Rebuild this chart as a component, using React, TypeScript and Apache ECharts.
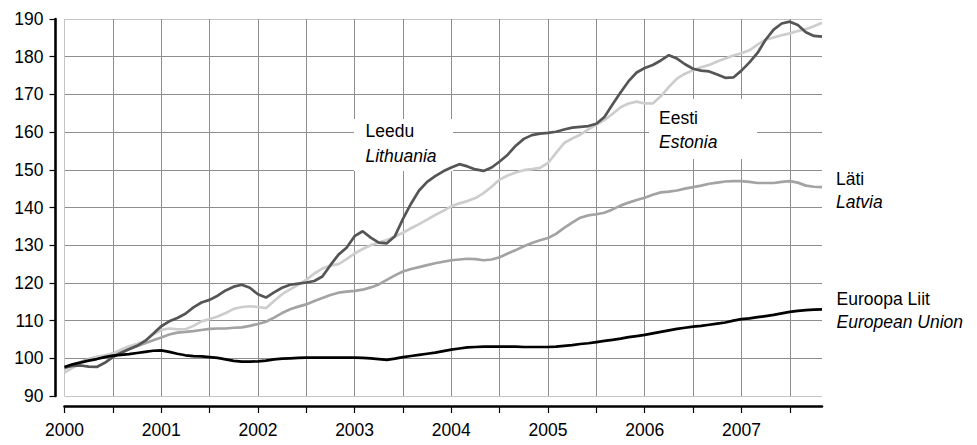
import React, { useEffect, useRef } from "react";
import * as echarts from "echarts";

const FONT = "'Liberation Sans', Arial, sans-serif";
const FS = 17.5;

// Monthly index, Jan 2000 .. Nov 2007
const months: string[] = Array.from({ length: 95 }, (_, i) => {
  const y = 2000 + Math.floor(i / 12);
  const m = (i % 12) + 1;
  return `${y}-${m < 10 ? "0" + m : m}`;
});

const yTicks = [90, 100, 110, 120, 130, 140, 150, 160, 170, 180, 190];

const lithuania = [
  97.6, 98.0, 98.1, 97.8, 97.7, 98.8, 100.3, 101.4, 102.4, 103.3, 104.6, 106.5,
  108.5, 109.8, 110.7, 111.8, 113.5, 114.8, 115.5, 116.6, 118.0, 119.0, 119.5, 118.7,
  117.0, 116.1, 117.5, 118.7, 119.5, 119.8, 120.1, 120.5, 121.7, 124.7, 127.5, 129.3,
  132.4, 133.7, 132.0, 130.7, 130.5, 132.4, 137.0, 141.0, 144.5, 146.8, 148.3, 149.6,
  150.6, 151.5, 150.9, 150.1, 149.7, 150.6, 152.2, 154.0, 156.4, 158.2, 159.2, 159.6,
  159.8, 160.1, 160.7, 161.2, 161.4, 161.6, 162.2, 164.0, 167.3, 170.5, 173.5, 175.8,
  177.0, 177.8, 179.0, 180.4, 179.5, 178.0, 176.8, 176.3, 176.1, 175.3, 174.4, 174.5,
  176.3, 178.5, 181.0, 184.5, 187.2, 188.8, 189.3, 188.4, 186.5, 185.5, 185.3,
];

const estonia = [
  96.2, 97.5, 98.6, 99.6, 100.3, 100.8, 101.3, 102.3, 103.2, 103.8, 104.6, 106.3,
  107.5, 107.9, 107.7, 107.7, 108.6, 109.8, 110.4, 111.1, 112.0, 113.1, 113.6, 113.8,
  113.6, 113.3, 115.2, 117.0, 118.3, 119.5, 120.8, 122.5, 123.8, 124.6, 125.0, 126.3,
  127.8, 129.0, 130.0, 130.7, 131.4, 132.3, 133.3, 134.5, 135.6, 136.8, 138.0, 139.1,
  140.3, 141.1, 141.7, 142.5, 143.8, 145.5, 147.4, 148.5, 149.3, 149.9, 150.2, 150.5,
  151.8, 154.5, 157.1, 158.3, 159.3, 160.7, 162.0, 163.2, 164.8, 166.6, 167.6, 168.1,
  167.6, 167.6, 169.5, 172.0, 174.2, 175.5, 176.4, 177.2, 177.8, 178.7, 179.5, 180.3,
  180.9, 181.7, 183.2, 184.5, 185.1, 185.7, 186.2, 186.8, 187.3, 188.1, 189.0,
];

const latvia = [
  97.3, 98.2, 99.0, 99.8, 100.3, 100.6, 101.0, 101.8, 102.5, 103.2, 104.0, 104.8,
  105.5, 106.3, 106.8, 107.0, 107.2, 107.5, 107.8, 107.9, 107.9, 108.1, 108.2, 108.6,
  109.1, 109.7, 110.8, 112.0, 113.0, 113.7, 114.3, 115.2, 116.0, 116.8, 117.4, 117.7,
  117.9, 118.2, 118.8, 119.6, 120.8, 122.0, 123.0, 123.7, 124.2, 124.7, 125.2, 125.6,
  126.0, 126.2, 126.4, 126.3, 126.0, 126.2, 126.8, 127.8, 128.7, 129.7, 130.6, 131.3,
  131.9, 133.0, 134.6, 136.0, 137.3, 137.9, 138.2, 138.6, 139.5, 140.5, 141.3, 142.0,
  142.6, 143.4, 144.0, 144.2, 144.5, 145.0, 145.4, 145.8, 146.3, 146.6, 146.9, 147.0,
  147.0, 146.8, 146.5, 146.5, 146.5, 146.8, 147.0, 146.6, 145.8, 145.5, 145.4,
];

const eu = [
  97.7, 98.4, 98.9, 99.4, 99.8, 100.3, 100.7, 100.9, 101.1, 101.4, 101.7, 102.0,
  102.1, 101.7, 101.2, 100.8, 100.6, 100.5, 100.3, 100.1, 99.7, 99.3, 99.1, 99.1,
  99.2, 99.4, 99.7, 99.9, 100.0, 100.1, 100.2, 100.2, 100.2, 100.2, 100.2, 100.2,
  100.2, 100.1, 100.0, 99.8, 99.6, 99.9, 100.3, 100.6, 100.9, 101.2, 101.5, 101.9,
  102.3, 102.6, 102.9, 103.0, 103.1, 103.1, 103.1, 103.1, 103.1, 103.0, 103.0, 103.0,
  103.0, 103.1, 103.3, 103.5, 103.8, 104.0, 104.3, 104.6, 104.9, 105.2, 105.6, 105.9,
  106.2, 106.6, 107.0, 107.4, 107.8, 108.1, 108.4, 108.6, 108.9, 109.2, 109.5, 110.0,
  110.4, 110.6, 110.9, 111.2, 111.5, 111.9, 112.3, 112.6, 112.8, 112.9, 113.0,
];

const LIGHT = "#c4c4c4";
const MID = "#8e8e8e";

export default function App() {
  const ref = useRef<HTMLDivElement>(null);

  useEffect(() => {
    document.body.style.margin = "0";
    if (!ref.current) return;
    const chart = echarts.init(ref.current, undefined, { renderer: "svg" });

    const xColors = [LIGHT, ...Array(16).fill(MID)];
    const yColors = [LIGHT, ...Array(9).fill(MID), LIGHT];

    const lineSeries = (name: string, data: number[], color: string) => ({
      name,
      type: "line",
      data,
      showSymbol: false,
      symbol: "none",
      smooth: false,
      lineStyle: { color, width: 2.7 },
      emphasis: { disabled: true },
    });

    const txt = (x: number, y: number, text: string, italic: boolean) => ({
      type: "text",
      x,
      y,
      z: 5,
      style: {
        text,
        fill: "#000",
        font: `${italic ? "italic " : ""}${FS}px ${FONT}`,
        fontSize: FS,
        fontStyle: italic ? "italic" : "normal",
        fontFamily: FONT,
        textAlign: "left",
        textVerticalAlign: "middle",
        verticalAlign: "middle",
      },
    });

    chart.setOption({
      animation: false,
      backgroundColor: "#fff",
      textStyle: { fontFamily: FONT },
      grid: { left: 64.5, right: 155, top: 19, bottom: 49, containLabel: false },
      xAxis: {
        type: "category",
        data: months,
        boundaryGap: false,
        offset: 10,
        axisLine: { show: true, onZero: false, lineStyle: { color: "#000", width: 2.6 } },
        axisTick: { show: true, interval: 5, length: 7, lineStyle: { color: "#000", width: 1.2 } },
        axisLabel: {
          interval: 11,
          margin: 15,
          fontSize: FS,
          color: "#000",
          fontFamily: FONT,
          formatter: (v: string) => v.slice(0, 4),
        },
        splitLine: { show: true, interval: 5, lineStyle: { color: xColors, width: 1 } },
      },
      yAxis: {
        type: "value",
        min: 90,
        max: 190,
        interval: 10,
        offset: 9,
        axisLine: { show: true, lineStyle: { color: "#000", width: 2.6 } },
        axisTick: { show: true, length: 6, lineStyle: { color: "#000", width: 1.2 } },
        axisLabel: {
          margin: 12,
          fontSize: FS,
          color: "#000",
          fontFamily: FONT,
          formatter: (v: number) => (yTicks.includes(v) ? String(v) : ""),
        },
        splitLine: { show: true, lineStyle: { color: yColors, width: 1 } },
      },
      series: [
        lineSeries("Läti", latvia, "#a3a3a3"),
        lineSeries("Eesti", estonia, "#cdcdcd"),
        lineSeries("Leedu", lithuania, "#555555"),
        lineSeries("Euroopa Liit", eu, "#000000"),
      ],
      graphic: [
        { type: "rect", z: 1, shape: { x: 354, y: 119, width: 99, height: 52 }, style: { fill: "#fff" } },
        { type: "rect", z: 1, shape: { x: 649, y: 99, width: 108, height: 60 }, style: { fill: "#fff" } },
        txt(365.5, 130.8, "Leedu", false),
        txt(365.5, 155.8, "Lithuania", true),
        txt(659, 117.6, "Eesti", false),
        txt(659, 141.6, "Estonia", true),
        txt(836, 179.2, "Läti", false),
        txt(836, 202.4, "Latvia", true),
        txt(836.5, 299.1, "Euroopa Liit", false),
        txt(836.5, 322.4, "European Union", true),
      ],
    });

    return () => chart.dispose();
  }, []);

  return (
    <div
      ref={ref}
      style={{ position: "fixed", left: 0, top: 0, width: 977, height: 445, background: "#fff" }}
    />
  );
}
